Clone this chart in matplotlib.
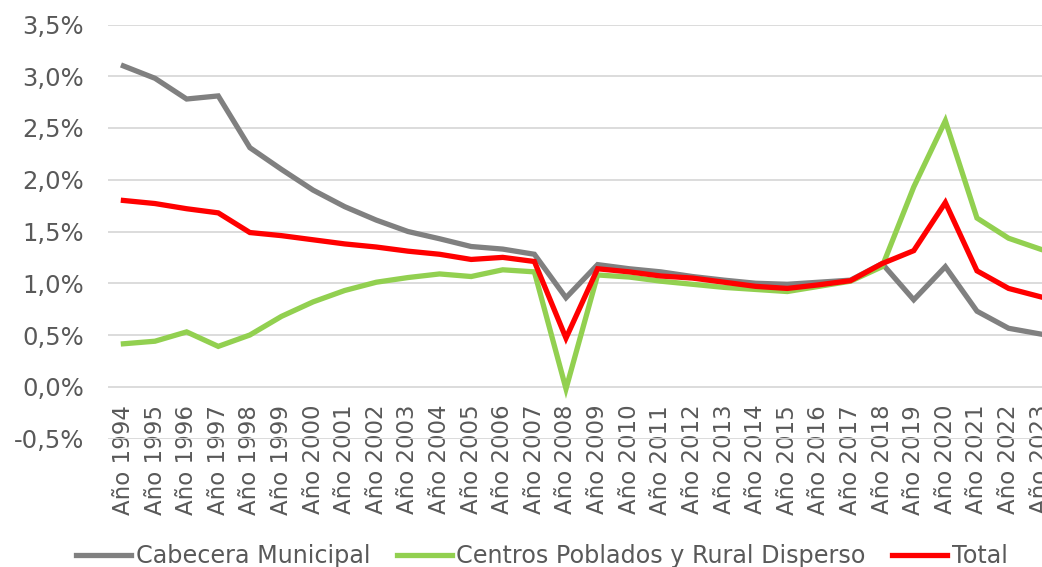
import numpy as np
import matplotlib.pyplot as plt
from matplotlib.ticker import FuncFormatter

years = list(range(1994, 2024))
labels = ["Año %d" % y for y in years]

# tasas en %
cabecera = [3.10, 2.98, 2.78, 2.81, 2.31, 2.10, 1.90, 1.74, 1.61, 1.50,
            1.43, 1.355, 1.33, 1.28, 0.86, 1.18, 1.14, 1.11, 1.065, 1.03,
            1.00, 0.99, 1.01, 1.03, 1.19, 0.84, 1.16, 0.73, 0.565, 0.51]
rural = [0.415, 0.44, 0.53, 0.39, 0.50, 0.68, 0.82, 0.93, 1.01, 1.055,
         1.09, 1.065, 1.13, 1.11, -0.02, 1.08, 1.06, 1.02, 0.99, 0.96,
         0.94, 0.92, 0.97, 1.02, 1.16, 1.93, 2.57, 1.63, 1.435, 1.33]
total = [1.80, 1.77, 1.72, 1.68, 1.49, 1.46, 1.42, 1.38, 1.35, 1.31,
         1.28, 1.23, 1.25, 1.21, 0.47, 1.14, 1.11, 1.07, 1.05, 1.01,
         0.97, 0.95, 0.985, 1.025, 1.19, 1.315, 1.78, 1.12, 0.95, 0.87]

series = [("Cabecera Municipal", cabecera, "#808080"),
          ("Centros Poblados y Rural Disperso", rural, "#92D050"),
          ("Total", total, "#FF0000")]

txt = "#595959"
fs = 16.5

fig = plt.figure(figsize=(10.42, 5.67), dpi=100)
ax = fig.add_axes([107.6/1042, 1-438.5/567, (1056-107.6)/1042, (438.5-24.5)/567])

x = np.arange(len(years))
for name, vals, col in series:
    ax.plot(x, vals, color=col, lw=3.8, label=name, solid_joinstyle='miter')

ax.set_xlim(-0.5, len(years)-0.5)
ax.set_ylim(-0.5, 3.5)
ax.set_yticks(np.arange(-0.5, 3.51, 0.5))
ax.yaxis.set_major_formatter(FuncFormatter(lambda v, p: ("%.1f%%" % v).replace(".", ",")))
ax.grid(axis='y', color="#D9D9D9", lw=1.3)
ax.set_axisbelow(True)

ax.spines['bottom'].set_position(('data', 0))
for s in ['top', 'right', 'left', 'bottom']:
    ax.spines[s].set_color('none')

ax.set_xticks(x)
ax.set_xticklabels(labels, rotation=90, va='top', ha='center')
ax.tick_params(axis='x', length=0, pad=13, labelsize=fs, labelcolor=txt)
ax.tick_params(axis='y', length=0, pad=17, labelsize=17.5, labelcolor=txt)

fig.legend(loc='center', bbox_to_anchor=(0.52, 1-556/567), ncol=3, frameon=False,
           fontsize=17.2, labelcolor=txt, handlelength=2.3, handletextpad=0.2,
           columnspacing=1.1)

fig.savefig("out.png", dpi=100)
